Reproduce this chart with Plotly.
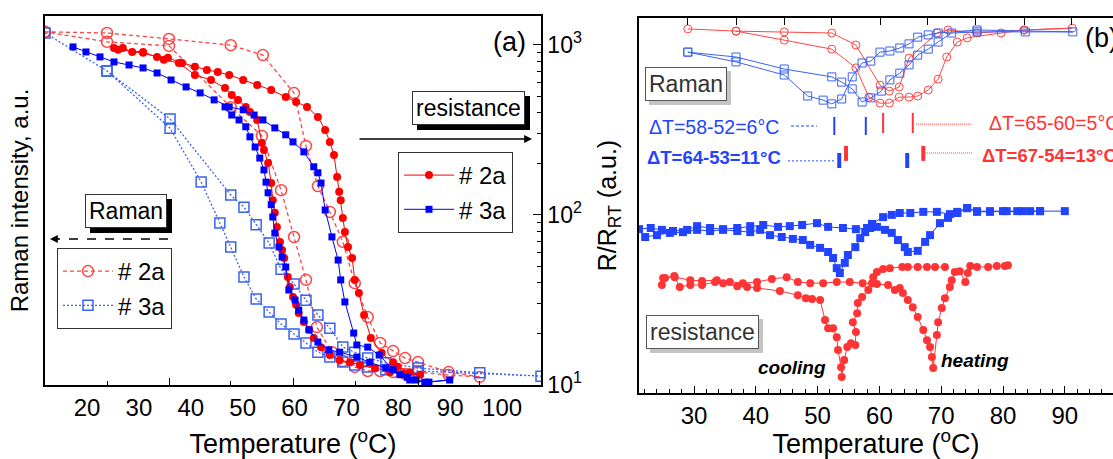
import plotly.graph_objects as go

FONT = "Arial, Liberation Sans, sans-serif"

# ================= Panel (a) =================
# Raman intensity (a.u.), loop: heating then cooling
ram2a_T = [11.9, 23.85, 35.8, 47.7, 53.9, 59.9, 62.2, 64.5, 66.8, 69.3, 71.6, 74.1, 76.5, 79.0, 81.3, 83.8, 89.7, 95.7,
           89.7, 83.8, 81.3, 79.0, 76.5, 74.1, 71.6, 69.3, 67.2, 64.3, 62.2, 59.9, 57.4, 53.7, 47.7, 35.8, 23.85, 11.9]
ram2a_I = [0.957, 0.954, 0.938, 0.921, 0.894, 0.791, 0.648, 0.539, 0.469, 0.388, 0.276, 0.184, 0.114, 0.092, 0.073, 0.062, 0.035, 0.022,
           0.027, 0.035, 0.030, 0.035, 0.038, 0.038, 0.049, 0.065, 0.089, 0.157, 0.285, 0.401, 0.528, 0.675, 0.753, 0.919, 0.930, 0.957]

ram3a_T = [11.9, 23.85, 36.0, 47.7, 50.25, 52.6, 55.1, 57.4, 59.9, 62.2, 64.5, 66.8, 69.3, 71.6, 74.1, 77.6, 83.8, 95.7, 107.5,
           83.8, 77.6, 74.1, 71.6, 69.3, 66.8, 64.5, 62.2, 59.9, 57.4, 55.1, 52.6, 50.25, 47.7, 45.6, 42.0, 36.0, 23.85]
ram3a_I = [0.954, 0.851, 0.721, 0.515, 0.482, 0.434, 0.385, 0.314, 0.274, 0.230, 0.190, 0.154, 0.103, 0.089, 0.073, 0.060, 0.046, 0.033, 0.024,
           0.038, 0.041, 0.049, 0.054, 0.062, 0.076, 0.089, 0.114, 0.138, 0.165, 0.198, 0.233, 0.293, 0.374, 0.439, 0.550, 0.696, 0.851]

# Resistance (Ohm, log axis)
res2a_heat_T = [25.2, 26.9, 28.7, 30.8, 33.5, 35.6, 38.3, 40.8, 43.1, 45.2, 47.4, 50.1, 52.8, 55.5, 58.3, 60.3, 62.4, 64.5,
                65.9, 66.8, 67.6, 68.2, 68.6, 68.9, 69.3, 69.7, 70.3, 71.1, 71.6, 72.4, 73.4, 74.7, 76.8, 79.0, 79.9, 82.2, 84.2]
res2a_heat_R = [959, 959, 909, 898, 850, 839, 783, 743, 713, 693, 666, 622, 582, 543, 494, 462, 432, 377,
                316, 269, 225, 167, 137, 122, 96, 79.4, 64.8, 55.8, 41.5, 34.8, 25.8, 18.9, 15.4, 13.6, 12.8, 11.9, 11.5]
res2a_cool_T = [81.1, 78.4, 75.5, 72.6, 70.7, 68.7, 66.8, 65.1, 63.7, 62.8, 61.8, 60.8, 60.3, 59.7, 59.1, 58.7, 58.0, 57.6, 57.2,
                56.6, 56.2, 55.8, 55.5, 54.9, 54.1, 53.7, 52.8, 51.4, 50.6, 49.1, 47.9, 46.6, 43.9, 40.8, 37.7, 34.8, 30.8, 26.0]
res2a_cool_R = [11.6, 11.9, 12.6, 13.1, 13.6, 14.0, 15.0, 16.7, 18.9, 21.1, 23.5, 26.5, 29.6, 32.9, 37.7, 43.1, 55.8, 62.2, 69.3,
                85, 103, 122, 154, 202, 241, 265, 362, 403, 432, 475, 508, 558, 622, 666, 783, 817, 909, 935]

res3a_heat_T = [17.3, 19.8, 22.5, 25.2, 28.1, 30.8, 33.5, 36.2, 39.1, 41.8, 44.5, 47.4, 50.1, 52.2, 53.9, 56.2, 58.3, 59.7,
                61.8, 63.7, 64.5, 65.1, 65.9, 67.2, 68.4, 68.9, 69.7, 71.4, 72.0, 74.1, 76.3, 79.0, 81.7, 83.4, 85.9, 89.9]
res3a_heat_R = [973, 909, 850, 794, 762, 732, 684, 622, 566, 522, 475, 432, 415, 387, 362, 325, 296, 269,
                235, 192, 177, 154, 107, 74.3, 54.3, 41.5, 30.8, 20.2, 17.2, 16.7, 15.0, 12.3, 11.1, 10.7, 10.4, 10.7]
res3a_cool_T = [85.1, 82.2, 80.3, 77.6, 74.5, 72.0, 68.7, 66.6, 64.5, 62.8, 61.8, 60.8, 60.1, 58.9, 58.3, 57.6, 57.0, 56.2,
                55.8, 55.5, 54.9, 54.5, 54.1, 53.3, 52.4, 51.4, 50.6, 49.3, 47.9, 46.6]
res3a_cool_R = [10.4, 10.7, 11.5, 12.6, 13.6, 14.6, 15.6, 16.1, 17.9, 21.1, 24.1, 27.6, 31.6, 36.2, 49.4, 56.6, 64.8, 78.3,
                97.3, 115, 135, 156, 184, 216, 251, 288, 330, 362, 387, 432]

a_xticklabels = [20, 30, 40, 50, 60, 70, 80, 90, 100]
a_major_ticks = [35.8, 59.7, 83.8]
a_minor_ticks = [23.85, 47.7, 71.8, 95.7]

# ================= Panel (b) =================
b_res2a_heat_T = [25.0, 26.9, 29.4, 31.3, 33.7, 35.8, 37.9, 40.2, 42.6, 45.0, 46.8, 48.8, 50.9, 53.1, 55.2, 57.3, 59.6, 61.4,
                  62.5, 63.3, 63.8, 64.6, 65.4, 66.2, 67.1, 67.7, 68.2, 68.5, 68.7, 69.3, 69.5, 70.1, 70.6, 71.4, 71.7,
                  72.2, 73.0, 73.9, 74.3, 74.7, 75.8, 77.6, 79.0, 80.3, 80.8]
b_res2a_heat_v = [0.307, 0.309, 0.301, 0.299, 0.301, 0.296, 0.293, 0.296, 0.304, 0.309, 0.296, 0.293, 0.293, 0.296, 0.296, 0.293, 0.291, 0.288,
                  0.275, 0.280, 0.267, 0.248, 0.229, 0.203, 0.168, 0.141, 0.123, 0.096, 0.067, 0.155, 0.189, 0.227, 0.253, 0.283, 0.301,
                  0.323, 0.325, 0.296, 0.320, 0.339, 0.336, 0.336, 0.339, 0.339, 0.341]
b_res2a_cool_T = [70.6, 69.0, 67.7, 66.2, 64.6, 63.7, 61.7, 60.6, 59.6, 59.0, 58.8, 58.2, 57.2, 56.5, 56.4, 55.7, 56.2, 56.1,
                  55.4, 54.8, 54.3, 53.9, 53.8, 53.3, 53.1, 52.5, 51.7, 51.2, 50.4, 49.1, 48.1, 46.8, 43.9, 40.2, 38.6,
                  37.0, 34.7, 33.4, 31.3, 29.4, 27.7, 26.8, 25.3, 24.8]
b_res2a_cool_v = [0.336, 0.336, 0.336, 0.336, 0.336, 0.336, 0.333, 0.331, 0.323, 0.309, 0.293, 0.275, 0.256, 0.240, 0.213, 0.189, 0.163, 0.128,
                  0.133, 0.123, 0.088, 0.043, 0.069, 0.115, 0.149, 0.173, 0.173, 0.195, 0.248, 0.251, 0.253, 0.261, 0.272, 0.280, 0.283,
                  0.285, 0.293, 0.296, 0.288, 0.288, 0.283, 0.312, 0.307, 0.288]

b_res3a_up_T = [21.1, 23.0, 24.8, 26.6, 28.9, 30.5, 32.6, 34.7, 37.0, 39.1, 41.2, 43.6, 45.5, 47.5, 49.9, 51.7, 54.1, 56.2,
                58.0, 58.8, 60.6, 62.0, 63.3, 65.0, 67.1, 69.3, 71.4, 72.6, 74.2, 75.8, 77.9, 80.0, 82.3, 84.4, 86.0, 90.0]
b_res3a_up_v = [0.437, 0.440, 0.435, 0.432, 0.435, 0.445, 0.440, 0.437, 0.440, 0.445, 0.448, 0.443, 0.445, 0.448, 0.453, 0.443, 0.440, 0.437,
                0.440, 0.451, 0.469, 0.475, 0.480, 0.480, 0.483, 0.483, 0.477, 0.483, 0.493, 0.485, 0.485, 0.485, 0.485, 0.485, 0.485, 0.485]
b_res3a_dn_T = [22.1, 24.0, 26.1, 28.2, 30.5, 32.6, 34.7, 37.0, 39.1, 40.7, 42.3, 44.2, 46.0, 47.6, 48.8, 50.4, 51.7, 52.5,
                53.1, 53.6, 54.4, 54.9, 56.1, 56.9, 57.7, 58.5, 59.6, 60.9, 62.0, 63.0, 64.1, 64.6, 66.2, 67.4, 68.2,
                69.8, 71.1, 72.6, 74.2, 75.8, 77.9, 80.6, 83.2, 86.0]
b_res3a_dn_v = [0.416, 0.421, 0.427, 0.429, 0.435, 0.432, 0.435, 0.432, 0.429, 0.435, 0.421, 0.416, 0.411, 0.408, 0.395, 0.387, 0.376, 0.360,
                0.333, 0.320, 0.347, 0.368, 0.389, 0.413, 0.429, 0.440, 0.443, 0.435, 0.427, 0.408, 0.389, 0.376, 0.379, 0.403, 0.421,
                0.453, 0.467, 0.480, 0.493, 0.483, 0.483, 0.485, 0.485, 0.485]

b_ram2a_T = [29.0, 36.8, 44.6, 52.3, 56.2, 58.3, 60.1, 61.6, 63.2, 64.8, 66.2, 67.9, 69.5, 70.9, 72.6, 74.2, 79.7, 83.4, 91.2,
             83.4, 75.8, 71.1, 69.3, 64.8, 63.2, 61.6, 60.1, 56.2, 52.3, 44.6, 36.8]
b_ram2a_v = [0.971, 0.965, 0.941, 0.917, 0.867, 0.789, 0.773, 0.773, 0.789, 0.789, 0.792, 0.808, 0.837, 0.896, 0.936, 0.947, 0.960, 0.968, 0.973,
             0.968, 0.960, 0.968, 0.960, 0.893, 0.816, 0.805, 0.821, 0.928, 0.960, 0.963, 0.965]
b_ram3a_T = [29.0, 36.8, 44.6, 52.3, 53.9, 55.6, 57.2, 58.6, 60.3, 61.7, 63.3, 64.8, 66.2, 67.9, 69.5, 71.7, 75.8, 83.6, 91.3,
             75.8, 69.5, 67.9, 66.2, 64.8, 63.3, 61.7, 60.1, 58.6, 57.2, 55.6, 53.9, 52.3, 50.9, 48.4, 44.6, 36.8, 29.0]
b_ram3a_v = [0.909, 0.896, 0.864, 0.843, 0.829, 0.811, 0.776, 0.787, 0.805, 0.835, 0.853, 0.875, 0.901, 0.917, 0.936, 0.960, 0.963, 0.963, 0.963,
             0.968, 0.960, 0.955, 0.949, 0.931, 0.920, 0.912, 0.909, 0.885, 0.880, 0.843, 0.784, 0.771, 0.781, 0.792, 0.848, 0.883, 0.909]

# Delta-T markers in panel (b)
dT1_blue_T, dT1_blue_v = [52.7, 57.8], (0.688, 0.736)
dT1_red_T, dT1_red_v = [60.6, 65.4], (0.693, 0.747)
dT2_blue_T, dT2_blue_v = [53.5, 64.5], (0.600, 0.640)
dT2_red_T, dT2_red_v = [54.6, 67.1], (0.619, 0.659)
guide1_blue_T, guide1_blue_v = (45.7, 49.9), 0.712
guide1_red_T, guide1_red_v = (65.9, 75.0), 0.717
guide2_blue_T, guide2_blue_v = (45.2, 52.8), 0.619
guide2_red_T, guide2_red_v = (67.4, 75.0), 0.640

b_top_ticks = [29.0, 36.8, 44.6, 52.3, 60.1, 67.8, 75.6, 83.4, 91.1]

RED = "#ff0000"
BLUE = "#0000ff"
RRED = "#ff4545"
RBLUE = "#3a62f2"
BRED = "#ff3535"
BBLUE = "#2244ff"

fig = go.Figure()

# --- panel (a) Raman (left axis)
fig.add_trace(go.Scatter(x=ram2a_T, y=ram2a_I, xaxis="x", yaxis="y", mode="lines+markers", name="# 2a",
                         line=dict(color=RRED, width=1.3, dash="4px,3px"),
                         marker=dict(symbol="circle-open", size=11, line=dict(width=1.5, color=RRED)),
                         legend="legend2"))
fig.add_trace(go.Scatter(x=ram3a_T, y=ram3a_I, xaxis="x", yaxis="y", mode="lines+markers", name="# 3a",
                         line=dict(color=RBLUE, width=1.3, dash="2px,2px"),
                         marker=dict(symbol="square-open", size=10, line=dict(width=1.5, color=RBLUE)),
                         legend="legend2"))
# --- panel (a) resistance (right log axis)
fig.add_trace(go.Scatter(x=res2a_heat_T + res2a_cool_T, y=res2a_heat_R + res2a_cool_R, xaxis="x3", yaxis="y2",
                         mode="lines+markers", name="# 2a", line=dict(color=RED, width=1),
                         marker=dict(symbol="circle", size=8, color=RED), legend="legend"))
fig.add_trace(go.Scatter(x=res3a_heat_T + res3a_cool_T, y=res3a_heat_R + res3a_cool_R, xaxis="x3", yaxis="y2",
                         mode="lines+markers", name="# 3a", line=dict(color=BLUE, width=1),
                         marker=dict(symbol="square", size=7, color=BLUE), legend="legend"))

# --- panel (b) resistance
fig.add_trace(go.Scatter(x=b_res3a_up_T, y=b_res3a_up_v, xaxis="x2", yaxis="y3", mode="lines+markers", showlegend=False,
                         line=dict(color=BBLUE, width=1), marker=dict(symbol="square", size=8, color=BBLUE)))
fig.add_trace(go.Scatter(x=b_res3a_dn_T, y=b_res3a_dn_v, xaxis="x2", yaxis="y3", mode="lines+markers", showlegend=False,
                         line=dict(color=BBLUE, width=1), marker=dict(symbol="square", size=8, color=BBLUE)))
fig.add_trace(go.Scatter(x=b_res2a_heat_T, y=b_res2a_heat_v, xaxis="x2", yaxis="y3", mode="lines+markers", showlegend=False,
                         line=dict(color=BRED, width=1), marker=dict(symbol="circle", size=8, color=BRED)))
fig.add_trace(go.Scatter(x=b_res2a_cool_T, y=b_res2a_cool_v, xaxis="x2", yaxis="y3", mode="lines+markers", showlegend=False,
                         line=dict(color=BRED, width=1), marker=dict(symbol="circle", size=8, color=BRED)))
# --- panel (b) Raman
fig.add_trace(go.Scatter(x=b_ram2a_T, y=b_ram2a_v, xaxis="x4", yaxis="y3", mode="lines+markers", showlegend=False,
                         line=dict(color=RRED, width=1),
                         marker=dict(symbol="circle-open", size=8, line=dict(width=1, color=RRED))))
fig.add_trace(go.Scatter(x=b_ram3a_T, y=b_ram3a_v, xaxis="x4", yaxis="y3", mode="lines+markers", showlegend=False,
                         line=dict(color=RBLUE, width=1),
                         marker=dict(symbol="square-open", size=8, line=dict(width=1, color=RBLUE))))


def bars(ts, vr):
    xs, ys = [], []
    for t in ts:
        xs += [t, t, None]
        ys += [vr[0], vr[1], None]
    return xs, ys


for ts, vr, col, w in [(dT1_blue_T, dT1_blue_v, BBLUE, 2), (dT1_red_T, dT1_red_v, BRED, 2),
                       (dT2_blue_T, dT2_blue_v, BBLUE, 4), (dT2_red_T, dT2_red_v, BRED, 4)]:
    xs, ys = bars(ts, vr)
    fig.add_trace(go.Scatter(x=xs, y=ys, xaxis="x2", yaxis="y3", mode="lines", showlegend=False,
                             line=dict(color=col, width=w)))
for tr, v, col, dash in [(guide1_blue_T, guide1_blue_v, BBLUE, "3px,2px"), (guide1_red_T, guide1_red_v, BRED, "1px,1px"),
                         (guide2_blue_T, guide2_blue_v, BBLUE, "2px,2px"), (guide2_red_T, guide2_red_v, BRED, "1px,1px")]:
    fig.add_trace(go.Scatter(x=list(tr), y=[v, v], xaxis="x2", yaxis="y3", mode="lines", showlegend=False,
                             line=dict(color=col, width=1, dash=dash)))

W, H = 1113, 459
ax_a = [45 / W, 541 / W]
ay_a = [1 - 385 / H, 1 - 16 / H]
ax_b = [639 / W, 1.0]
ay_b = [1 - 393 / H, 1 - 18 / H]
a_range = [11.9, 107.5]
b_range = [21.1, 97.8]

common = dict(showgrid=False, zeroline=False, automargin=False)

fig.update_layout(
    width=W, height=H, margin=dict(l=0, r=0, t=0, b=0),
    paper_bgcolor="white", plot_bgcolor="white",
    font=dict(family=FONT, color="black"),
    xaxis=dict(domain=ax_a, range=a_range, anchor="y", showline=True, linecolor="black", linewidth=1.5, mirror=True,
               ticks="", tickmode="array", tickvals=a_xticklabels, tickfont=dict(size=24),
               title=dict(text="Temperature (<sup>o</sup>C)", font=dict(size=27), standoff=16), **common),
    xaxis3=dict(overlaying="x", anchor="y2", side="bottom", range=a_range, showline=False,
                tickmode="array", tickvals=a_major_ticks, ticks="inside", ticklen=7, tickcolor="black",
                showticklabels=False,
                minor=dict(tickmode="array", tickvals=a_minor_ticks, ticks="inside", ticklen=4, tickcolor="black"),
                **common),
    yaxis=dict(domain=ay_a, range=[0, 1], anchor="x", showline=True, linecolor="black", linewidth=1.5,
               ticks="", showticklabels=False,
               title=dict(text="Raman intensity, a.u.", font=dict(size=24), standoff=8), **common),
    yaxis2=dict(overlaying="y", anchor="x3", side="right", type="log", range=[1.0, 3.17], showline=True,
                linecolor="black", linewidth=1.5, ticks="inside", ticklen=8, tickcolor="black",
                tickmode="array", tickvals=[10, 100, 1000],
                ticktext=["10<sup>1</sup>", "10<sup>2</sup>", "10<sup>3</sup>"], tickfont=dict(size=23),
                minor=dict(tickmode="array", tickvals=[20, 30, 40, 50, 60, 70, 80, 90, 200, 300, 400, 500, 600, 700, 800, 900],
                           ticks="inside", ticklen=4, tickcolor="black"),
                **common),
    xaxis2=dict(domain=ax_b, range=b_range, anchor="y3", showline=True, linecolor="black", linewidth=1.5, mirror=True,
                ticks="inside", tick0=0, dtick=10, ticklen=7, tickcolor="black", tickfont=dict(size=24),
                minor=dict(tick0=0, dtick=2, ticks="inside", ticklen=4, tickcolor="black"),
                title=dict(text="Temperature (<sup>o</sup>C)", font=dict(size=27), standoff=11), **common),
    xaxis4=dict(overlaying="x2", anchor="y3", side="top", range=b_range, showline=False,
                tickmode="array", tickvals=b_top_ticks, ticks="inside", ticklen=7, tickcolor="black",
                showticklabels=False, **common),
    yaxis3=dict(domain=ay_b, range=[0, 1], anchor="x2", showline=True, linecolor="black", linewidth=1.5,
                ticks="", showticklabels=False,
                title=dict(text="R/R<sub>RT</sub> (a.u.)", font=dict(size=25), standoff=14), **common),
    legend=dict(x=398 / W, y=1 - 152 / H, xanchor="left", yanchor="top", bgcolor="white", bordercolor="#333",
                borderwidth=1, font=dict(size=24, family=FONT), itemwidth=50, tracegroupgap=8),
    legend2=dict(x=57 / W, y=1 - 248 / H, xanchor="left", yanchor="top", bgcolor="white", bordercolor="#333",
                 borderwidth=1, font=dict(size=24, family=FONT), itemwidth=50),
)

ann = []


def boxed(text, xc, yc, shadow, shift, tcol, bcol):
    base = dict(x=xc / W, y=1 - yc / H, xref="paper", yref="paper", text=text, showarrow=False,
                xanchor="center", yanchor="middle", borderwidth=1, borderpad=3)
    ann.append(dict(base, font=dict(size=23, color=shadow), bgcolor=shadow, bordercolor=shadow,
                    xshift=shift, yshift=-shift))
    ann.append(dict(base, font=dict(size=23, color=tcol), bgcolor="white", bordercolor=bcol))


boxed("resistance", 468.5, 108, "black", 5, "black", "#333")
boxed("Raman", 126, 211.5, "black", 5, "black", "#333")
boxed("Raman", 686, 84.5, "#c4c4c4", 4, "#333", "#555")
boxed("resistance", 702.5, 331.5, "#c4c4c4", 4, "#333", "#555")


def label(text, xp, yp, size, color="black", xanchor="center"):
    ann.append(dict(x=xp / W, y=1 - yp / H, xref="paper", yref="paper", text=text, showarrow=False,
                    xanchor=xanchor, yanchor="middle", font=dict(size=size, color=color)))


label("(a)", 509, 42, 27)
label("(b)", 1083, 38, 27, xanchor="left")
label("<b><i>cooling</i></b>", 791.5, 367, 19)
label("<b><i>heating</i></b>", 975, 360, 19)
label("ΔT=58-52=6°C", 647, 127, 19.5, BBLUE, "left")
label("ΔT=65-60=5°C", 987, 123, 19.5, BRED, "left")
label("<b>ΔT=64-53=11°C</b>", 645, 158, 18.5, BBLUE, "left")
label("<b>ΔT=67-54=13°C</b>", 980, 155, 18.5, BRED, "left")

ann += [
    dict(x=532 / W, y=1 - 139 / H, xref="paper", yref="paper", text="", showarrow=True, ax=-174, ay=0,
         arrowhead=2, arrowsize=1.2, arrowwidth=1.3, arrowcolor="black"),
    dict(x=50 / W, y=1 - 239 / H, xref="paper", yref="paper", text="", showarrow=True, ax=10, ay=0,
         arrowhead=2, arrowsize=1.2, arrowwidth=1.3, arrowcolor="black"),
]
fig.update_layout(annotations=ann)
fig.add_shape(type="line", xref="paper", yref="paper", x0=168 / W, x1=58 / W, y0=1 - 239 / H, y1=1 - 239 / H,
              line=dict(color="black", width=1.3, dash="dash"))

fig.write_html("out.html")
